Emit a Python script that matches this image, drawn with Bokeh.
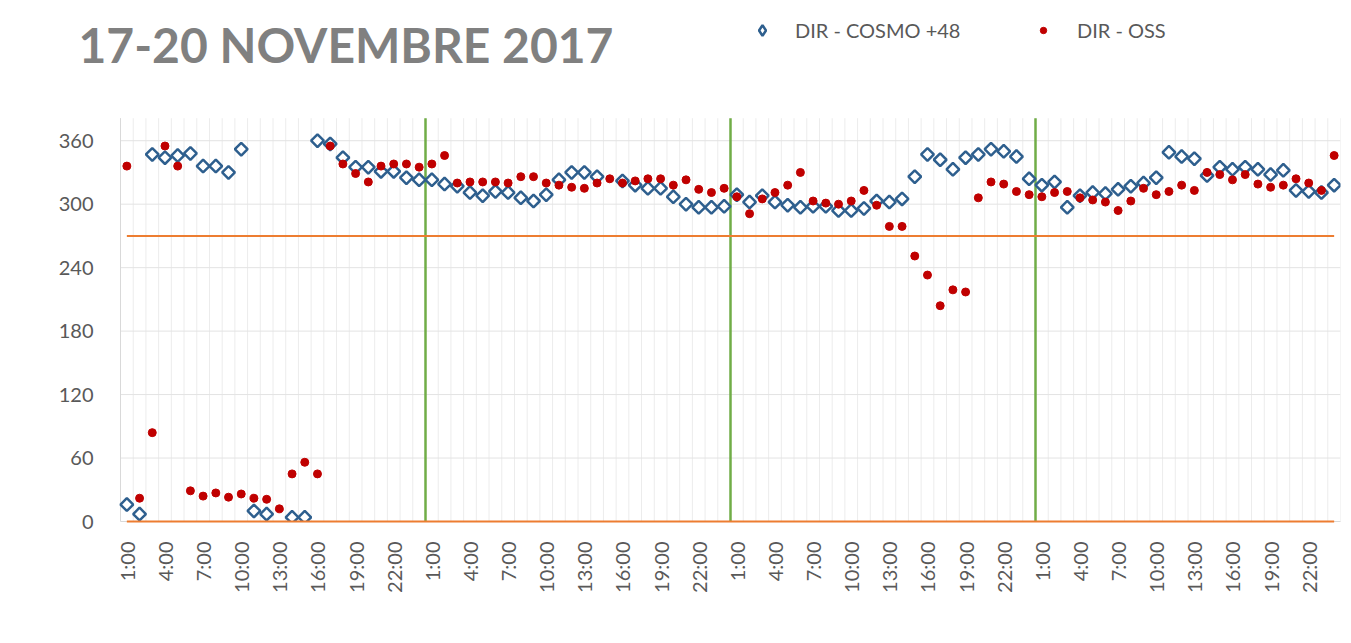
import math
from bokeh.plotting import figure
from bokeh.models import (Range1d, FixedTicker, Label, Legend, LegendItem)
from bokeh.embed import file_html
from bokeh.resources import INLINE

title_text = "17-20 NOVEMBRE 2017"
series_names = ["DIR - COSMO +48", "DIR - OSS"]

# hourly categories over four days (1:00 .. 24:00, four times)
hours = [f"{h}:00" for h in range(1, 25)] * 4
idx = list(range(1, len(hours) + 1))

nan = float("nan")
cosmo = [16, 7, 347, 344, 346, 348, 336, 336, 330, 352, 10, 7, nan, 4, 4, 360, 357, 344, 335, 335, 331, 331, 325, 323,
         323, 319, 317, 311, 308, 312, 311, 306, 303, 309, 323, 330, 330, 326, nan, 322, 318, 315, 315, 307, 300, 297, 297, 298,
         309, 302, 308, 302, 299, 297, 298, 298, 294, 294, 296, 303, 302, 305, 326, 347, 342, 333, 344, 347, 352, 350, 345, 324,
         318, 321, 297, 308, 311, 310, 314, 317, 320, 325, 349, 345, 343, 327, 335, 333, 335, 333, 328, 332, 313, 312, 311, 318]
oss = [336, 22, 84, 355, 336, 29, 24, 27, 23, 26, 22, 21, 12, 45, 56, 45, 355, 338, 329, 321, 336, 338, 338, 335,
       338, 346, 320, 321, 321, 321, 320, 326, 326, 320, 318, 316, 315, 320, 324, 320, 322, 324, 324, 318, 323, 314, 311, 315,
       307, 291, 305, 311, 318, 330, 303, 301, 300, 303, 313, 299, 279, 279, 251, 233, 204, 219, 217, 306, 321, 319, 312, 309,
       307, 311, 312, 306, 304, 302, 294, 303, 315, 309, 312, 318, 313, 330, 328, 323, 328, 319, 316, 318, 324, 320, 313, 346]

threshold_hi = 270
threshold_lo = 0
day_breaks = [24.5, 48.5, 72.5]
y_ticks = [0, 60, 120, 180, 240, 300, 360]
y_axis_top = 381.3        # top of the value axis
y_view_top = 485          # room above the axis for title and legend
x_lo, x_hi = 0.5, len(hours) + 0.5
x_view_lo = -2.805        # room left of the axis for the title

blue = "#2E5F8E"
red = "#C00000"

p = figure(width=1345, height=625, output_backend="svg", toolbar_location=None,
           x_range=Range1d(x_view_lo, x_hi), y_range=Range1d(0, y_view_top),
           min_border_left=78, min_border_right=5, min_border_top=8, min_border_bottom=104)
p.background_fill_color = "white"
p.border_fill_color = "white"
p.outline_line_color = None

# grid lines limited to the axes area
p.xgrid.visible = False
p.ygrid.visible = False
sep = [i + 0.5 for i in range(0, len(hours) + 1)]
p.segment(x0=sep, y0=[0] * len(sep), x1=sep, y1=[y_axis_top] * len(sep),
          line_color="#ececec", line_width=1)
p.segment(x0=[x_lo] * len(y_ticks), y0=y_ticks, x1=[x_hi] * len(y_ticks), y1=y_ticks,
          line_color="#e3e3e3", line_width=1)
# value-axis line
p.segment(x0=[x_lo], y0=[0], x1=[x_lo], y1=[y_axis_top], line_color="#d9d9d9", line_width=1)

# axes
tick_pos = idx[::3]
p.xaxis.ticker = FixedTicker(ticks=tick_pos)
p.xaxis.major_label_overrides = {i: hours[i - 1] for i in tick_pos}
p.xaxis.major_label_orientation = math.pi / 2
p.xaxis.bounds = (x_lo, x_hi)
p.xaxis.major_tick_line_color = None
p.xaxis.minor_tick_line_color = None
p.xaxis.axis_line_color = "#d9d9d9"
p.xaxis.major_label_standoff = 14
p.yaxis.ticker = FixedTicker(ticks=y_ticks)
p.yaxis.major_tick_line_color = None
p.yaxis.minor_tick_line_color = None
p.yaxis.axis_line_color = None
p.yaxis.major_label_standoff = -21
for ax in (p.xaxis[0], p.yaxis[0]):
    ax.major_label_text_font = "Lato"
    ax.major_label_text_font_size = "20px"
    ax.major_label_text_color = "#595959"

# threshold lines
for t in (threshold_hi, threshold_lo):
    rl = p.line([idx[0], idx[-1]], [t, t], line_color="#ED7D31", line_width=2)
    rl.level = "overlay"

# day separators
p.segment(x0=day_breaks, y0=[0] * len(day_breaks), x1=day_breaks, y1=[y_axis_top] * len(day_breaks),
          line_color="#70AD47", line_width=2.5)

p.scatter(idx, cosmo, marker="square", angle=math.pi / 4, size=9, fill_color="white",
          line_color=blue, line_width=2.5)
p.scatter(idx, oss, marker="circle", size=8, fill_color=red, line_color=red)

# legend swatches (hidden copies of the series, only their legend keys are shown)
k1 = p.scatter(idx, cosmo, marker="diamond", fill_color="white", line_color=blue, line_width=2.5, visible=False)
k2 = p.scatter(idx, oss, marker="circle", fill_color=red, line_color=red, visible=False)

common = dict(orientation="horizontal", label_text_font="Lato", label_text_font_size="20px",
              label_text_color="#595959", padding=0, margin=0, border_line_color=None,
              background_fill_alpha=0, inactive_fill_alpha=0)
leg1 = Legend(items=[LegendItem(label=series_names[0], renderers=[k1])], location=(671, 478),
              glyph_width=26, glyph_height=26, label_standoff=20, **common)
leg2 = Legend(items=[LegendItem(label=series_names[1], renderers=[k2])], location=(957, 479),
              glyph_width=16, glyph_height=16, label_standoff=26, **common)
p.add_layout(leg1, "center")
p.add_layout(leg2, "center")

p.add_layout(Label(x=0, y=477, x_units="screen", y_units="screen", text=title_text,
                   text_font="Lato", text_font_style="bold", text_font_size="48px",
                   text_color="#808080", text_baseline="alphabetic"))

open("out.html", "w").write(file_html(p, INLINE))
